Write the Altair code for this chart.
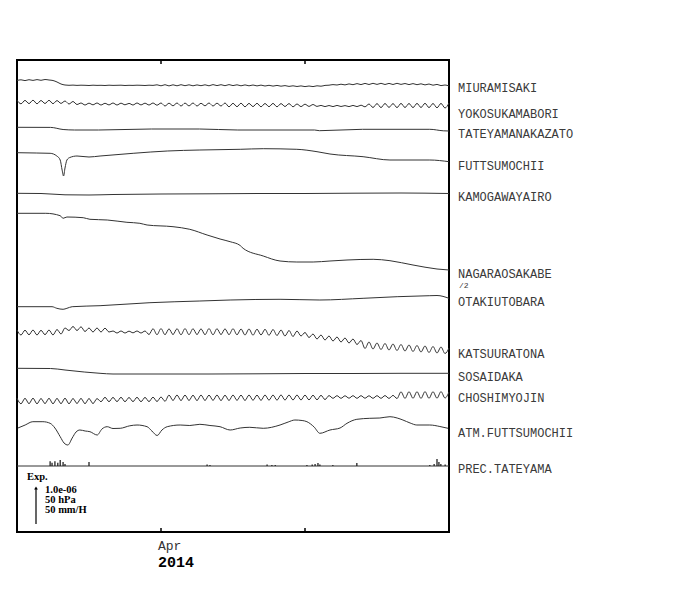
import altair as alt
import pandas as pd

# ---------------- data (display offsets) ----------------
SPAN_DAYS = 90  # 2014-03-02 .. 2014-05-31
tick_days = [30, 60]          # Apr 1, May 1
tick_labels = ["Apr", ""]

series_names = ["MIURAMISAKI", "YOKOSUKAMABORI", "TATEYAMANAKAZATO", "FUTTSUMOCHII",
                "KAMOGAWAYAIRO", "NAGARAOSAKABE", "OTAKIUTOBARA", "KATSUURATONA",
                "SOSAIDAKA", "CHOSHIMYOJIN", "ATM.FUTTSUMOCHII", "PREC.TATEYAMA"]
label_y = [88.3, 113.5, 134, 166, 197, 274, 301.5, 353.5, 377.3, 397.5, 432.5, 469.3]

# evenly sampled (tidal) traces
miuramisaki = [80.5, 79.8, 80.6, 79.7, 80.4, 79.6, 80.3, 79.5, 80, 80.5,
               82, 84, 85,
               85.3, 85.1, 85.4, 85.2, 85.3, 85.5, 85.2, 85.4, 85.3, 85.5, 85.2, 85.4, 85.3, 85.2, 85.5, 85.3, 85.4, 85.2, 85.3, 85.5, 85.2, 85.4,
               84.8, 85.8, 84.7, 85.9, 84.8, 85.8, 84.7, 85.7, 84.8, 85.8, 84.9, 85.7, 84.8, 85.8, 84.6, 85.6, 84.7, 85.7, 84.6, 85.6, 84.8, 85.8,
               84.9, 85.8, 85, 85.9, 85.1, 86, 85.3, 86.1, 85.4, 86.2, 85.6, 86.4, 85.8, 86.5, 85.9, 86.6, 86, 86.6, 85.8, 86.2, 85.4,
               85.2, 84.6, 85, 84.2, 84.9, 83.9, 84.7, 83.6, 84.6, 83.4, 84.5, 83.3, 84.4, 83.3, 84.5, 83.4, 84.5, 83.3, 84.4, 83.5,
               84.6, 83.6, 84.7, 83.8, 84.9, 84, 85.2, 84.4, 85.6, 85, 86]
yokosukamabori = [100.2, 103.8, 100.4, 103.6, 100.2, 103.8, 100.5, 103.5, 100.3, 103.7, 100.6, 103.4, 101, 104, 101.5, 104.5,
                  103, 105, 103.2, 104.8, 103, 105, 103.3, 104.9, 103, 105, 103.2, 104.8, 103.4, 105, 103, 104.9, 103.2, 105, 103, 105.2,
                  103, 106, 103.2, 105.8, 103, 106, 103.1, 105.9, 103, 106, 103.3, 105.8, 103, 106, 103.2, 106, 103,
                  106.8, 103.3, 106.7, 103.2, 106.8, 103.4, 106.6, 103.3, 106.8, 103.5, 106.7, 103.4, 106.8, 103.6, 106.5, 103.6, 106.8,
                  104, 106.6, 104.2, 106.4, 104.5, 106.4,
                  105.4, 106.6, 105.5, 106.6, 105.4, 106.5, 105.6, 106.6, 105.4, 106.6, 105.2, 106.8,
                  104, 107.5, 103.6, 107.6, 103.5, 107.4, 103.6, 107.6, 103.4, 107.5, 103.5, 107.6, 103.4, 107.5, 103.3, 107.6,
                  103.5, 107.8, 103.4, 108, 103]
katsuuratona = [330, 335, 330.2, 334.8, 330, 335, 330.3, 334.7, 330, 335, 329.5, 334, 328,
                330.5, 326.5, 330.5, 326.8,
                331.5, 328, 332, 328, 332, 328.2, 332,
                331, 333, 331, 333, 331.2, 332.8, 331, 333, 331,
                334.5, 328.7, 334.7, 328.6, 334.7, 328.8, 334.6, 328.7, 334.8, 328.6, 334.7, 328.7, 334.6, 328.8, 334.7, 328.6,
                334.8, 328.7, 334.6, 328.8, 334.7, 328.7, 334.8,
                329, 335, 329, 335.2, 329.2, 335, 329.3, 335.3, 329.5, 335.5, 330, 336, 330.5, 336.5, 331,
                336, 332.5, 337.5, 334, 339, 335, 340, 336, 341, 337, 342, 338, 343, 339, 344.5, 340.5,
                348.5, 342, 349, 343, 349.5, 343.5, 350, 344, 350.5, 344.5, 351, 345, 351.5, 345.5, 352, 346, 352.5, 346.5,
                353, 347, 353.5, 348]
choshimyojin = [398.2, 403.8, 398.3, 403.7, 398.2, 403.8, 398.5, 403.6, 398.3, 403.8, 398.4, 403.7, 398.2, 403.8, 398.5, 403.5,
                398.4, 403.7, 398.5, 403.6, 398.6,
                401.7, 397.3, 401.7, 397.4, 401.6, 397.3, 401.7, 397.5, 401.6, 397.3, 401.7, 397.4, 401.6, 397.2, 401.5, 397, 401.3,
                395.1, 400.5, 395, 400.6, 395.1, 400.5, 395.2, 400.6, 395, 400.5, 395.1, 400.4, 395, 400.6, 395.2, 400.5, 395, 400.4,
                395.1, 400.5, 395, 400.3, 395.1, 400.4, 395, 400.2, 395, 400.2, 394.9, 400.1, 395, 400, 395, 400, 395.1, 399.9,
                395.2, 399.8, 395.3, 399.6, 395.6,
                398.3, 395.7, 398.3, 395.8, 398.2, 395.7, 398.3, 395.7, 398.2, 395.8, 398.3, 395.7, 398.3, 395.6, 398.4, 395.4,
                398.5, 391.8, 398.4, 391.7, 398.3, 391.7, 398.4, 391.6, 398.3, 391.7, 398.2, 391.6, 398, 392]

# irregularly sampled (slow) traces: days, values
tateyama_days = [0, 7, 9.6, 12, 17, 28, 38, 46, 62, 63, 72, 86, 88.8, 90]
tateyama_vals = [127.3, 127.4, 129.5, 130, 130, 129, 129, 130, 130, 130.7, 129.3, 129.3, 130.8, 131]
futtsu_days = [0, 4, 6.9, 8.3, 9.0, 9.4, 9.7, 10.0, 10.4, 11.0, 12.5, 15, 17.3, 24.2, 31.3, 38.1, 46.5, 51.3,
               58.3, 62.5, 65.2, 72.1, 77.7, 86, 90]
futtsu_vals = [152.7, 153, 153.3, 156, 160, 170, 176, 168, 160, 157.5, 156, 157, 156, 153.3, 151, 150, 149.3, 148.7,
               149.3, 151.7, 154, 156.7, 160, 160, 161.7]
kamo_days = [0, 5, 10, 15, 20, 30, 40, 50, 60, 70, 80, 90]
kamo_vals = [193.3, 193.5, 194.8, 195, 194.5, 194, 193.8, 193.5, 193.5, 193.2, 193, 193.5]
nagara_days = [0, 6, 9, 9.6, 10.4, 13.8, 15.2, 18.8, 22.9, 25.6, 27.1, 32.5, 36, 39.6, 42.3, 44.4, 46.5, 47.1,
               51.3, 54.8, 58.3, 61.7, 65.2, 68.75, 74.2, 77.7, 82.5, 87.5, 90]
nagara_vals = [213.3, 213.3, 215.7, 218.3, 217, 217.7, 219.3, 220, 222.3, 223.3, 225, 226.7, 229.3, 235, 239, 241.7,
               245.5, 248.3, 256, 261, 262, 262, 261, 260, 259.3, 260.7, 265, 269, 270]
otaki_days = [0, 7.3, 8.3, 9.6, 10.4, 11.5, 17.3, 27.7, 38.1, 44.4, 54.8, 63.1, 72.1, 79.2, 86, 87.5, 90]
otaki_vals = [306.7, 306.7, 308.3, 309.3, 308.3, 306.7, 305.7, 302.7, 301, 300, 299.3, 300, 298.3, 296.7, 295.7,
              295.5, 298.3]
sosai_days = [0, 7, 10, 14, 17.3, 20, 30, 40, 50, 60, 70, 80, 90]
sosai_vals = [368.3, 368.5, 370, 372, 373.3, 374, 374, 374, 373.8, 373.5, 373.5, 373.3, 373.3]
atm_days = [0.2, 1.7, 3.3, 5.4, 6.9, 7.9, 9.0, 9.8, 10.6, 11.5, 12.3, 13.1, 14.2, 15.2, 16.7, 17.7, 18.8, 20,
            21.5, 23.5, 25, 27.1, 28.1, 29.2, 30.2, 31.3, 34, 36, 38.1, 40.2, 42.3, 44.4, 46.5, 48.5, 51.3, 54.8,
            56.5, 57.9, 59.4, 60.4, 61.9, 63.1, 65.2, 67.3, 68.75, 70.8, 73.5, 75.6, 77.7, 79.2, 80.4, 81.9, 83.3,
            86, 88.1, 89.8]
atm_vals = [428, 425, 421.7, 421.7, 423.3, 428, 436.7, 443, 445, 438, 432, 430, 431, 431.7, 435, 429, 426.7, 428.5,
            428.3, 425.8, 425, 426.7, 431, 435.5, 430, 426.7, 425, 425.5, 424.3, 425.5, 426.7, 430, 428, 427.3, 428.3,
            425, 422, 420, 420.5, 421.7, 427, 433.3, 430, 428, 423.3, 419.3, 418.3, 418, 416.7, 418, 420, 423, 425,
            425, 426.5, 428.3]
prec_base = 466
prec_days = [6.9, 7.3, 7.9, 8.5, 9.0, 9.6, 10.0, 15.0, 39.6, 40.2, 52.1, 53.1, 53.8, 60.4, 61.5, 62.1, 62.7,
             63.1, 65.8, 70.8, 86.0, 86.9, 87.5, 87.9, 88.3, 89.2]
prec_mm = [6, 4, 6, 4, 7.5, 5, 2.5, 5, 2, 1.2, 2, 1.2, 1.2, 1.2, 2, 2.5, 3.8,
           2, 1.2, 3.8, 1.2, 2.5, 8.8, 5, 2.5, 2]
PX_PER_MM = 40 / 50  # 50 mm/H scale arrow

# ---------------- tables ----------------
rows = []
for name, vals in [("MIURAMISAKI", miuramisaki), ("YOKOSUKAMABORI", yokosukamabori),
                   ("KATSUURATONA", katsuuratona), ("CHOSHIMYOJIN", choshimyojin)]:
    n = len(vals)
    for i, v in enumerate(vals):
        rows.append({"series": name, "day": i * SPAN_DAYS / (n - 1), "val": v})
for name, ds, vs in [("TATEYAMANAKAZATO", tateyama_days, tateyama_vals),
                     ("FUTTSUMOCHII", futtsu_days, futtsu_vals),
                     ("KAMOGAWAYAIRO", kamo_days, kamo_vals),
                     ("NAGARAOSAKABE", nagara_days, nagara_vals),
                     ("OTAKIUTOBARA", otaki_days, otaki_vals),
                     ("SOSAIDAKA", sosai_days, sosai_vals),
                     ("ATM.FUTTSUMOCHII", atm_days, atm_vals),
                     ("PREC.TATEYAMA", [0, SPAN_DAYS], [prec_base, prec_base])]:
    for d, v in zip(ds, vs):
        rows.append({"series": name, "day": d, "val": v})
lines_df = pd.DataFrame(rows)

prec_df = pd.DataFrame({"day": prec_days,
                        "val": [prec_base - m * PX_PER_MM for m in prec_mm],
                        "val2": [prec_base] * len(prec_days)})
labels_df = pd.DataFrame({"series": series_names, "val": label_y, "day": [SPAN_DAYS] * len(series_names)})
ticks_df = pd.DataFrame({"day": tick_days, "lab": tick_labels})

W, H = 432, 472
xs = alt.Scale(domain=[0, SPAN_DAYS], nice=False, zero=False)
ys = alt.Scale(domain=[60, 532], nice=False, zero=False, reverse=True)
X = alt.X("day:Q", scale=xs, axis=None)
Y = alt.Y("val:Q", scale=ys, axis=None)

traces = alt.Chart(lines_df).mark_line(color="#333333", strokeWidth=1, interpolate="monotone").encode(
    x=X, y=Y, detail="series:N", order="day:Q")

prec = alt.Chart(prec_df).mark_rule(color="#222222", strokeWidth=1.3).encode(
    x=X, y=Y, y2="val2:Q")

labels = alt.Chart(labels_df).mark_text(align="left", baseline="middle", dx=9, font="Liberation Mono",
                                        fontSize=12, color="#3a3a3a").encode(x=X, y=Y, text="series:N")
half = alt.Chart(pd.DataFrame({"day": [SPAN_DAYS], "val": [286], "t": ["/2"]})).mark_text(
    align="left", baseline="middle", dx=10, font="Liberation Mono", fontSize=8, color="#3a3a3a").encode(
    x=X, y=Y, text="t:N")

top_ticks = alt.Chart(ticks_df).mark_rule(color="black", strokeWidth=1.5).encode(
    x=X, y=alt.value(0), y2=alt.value(4))
bot_ticks = alt.Chart(ticks_df).mark_rule(color="black", strokeWidth=1.5).encode(
    x=X, y=alt.value(H - 4), y2=alt.value(H))
month_lab = alt.Chart(ticks_df).mark_text(align="left", baseline="middle", dx=-3, font="Liberation Mono",
                                          fontSize=13, color="#333333").encode(
    x=X, y=alt.value(H + 14), text="lab:N")
year_lab = alt.Chart(pd.DataFrame({"day": [tick_days[0]], "t": ["2014"]})).mark_text(
    align="left", baseline="middle", dx=-3, font="Liberation Mono", fontSize=15, fontWeight="bold",
    color="black").encode(x=X, y=alt.value(H + 30), text="t:N")

exp_df = pd.DataFrame({"t": ["Exp.", "1.0e-06", "50 hPa", "50 mm/H"],
                       "px": [10, 28, 28, 28], "py": [417, 430, 440, 450]})
exp_text = alt.Chart(exp_df).mark_text(align="left", baseline="middle", font="Liberation Serif",
                                       fontSize=10.5, fontWeight="bold", color="black").encode(
    x=alt.X("px:Q", scale=None), y=alt.Y("py:Q", scale=None), text="t:N")
arrow_line = alt.Chart(pd.DataFrame({"a": [0]})).mark_rule(color="black", strokeWidth=1.2).encode(
    x=alt.value(19), y=alt.value(428), y2=alt.value(464))
arrow_head = alt.Chart(pd.DataFrame({"a": [0]})).mark_point(shape="triangle-up", filled=True, size=14,
                                                             color="black", opacity=1).encode(
    x=alt.value(19), y=alt.value(428))

chart = alt.layer(traces, prec, labels, half, top_ticks, bot_ticks, month_lab, year_lab,
                  exp_text, arrow_line, arrow_head).properties(
    width=W, height=H, autosize=alt.AutoSizeParams(type="none"),
    padding={"left": 9, "top": 52, "right": 230, "bottom": 50},
    background="white"
).configure_view(stroke="black", strokeWidth=2)

chart.save("out.html", embed_options={"renderer": "svg", "actions": False})
